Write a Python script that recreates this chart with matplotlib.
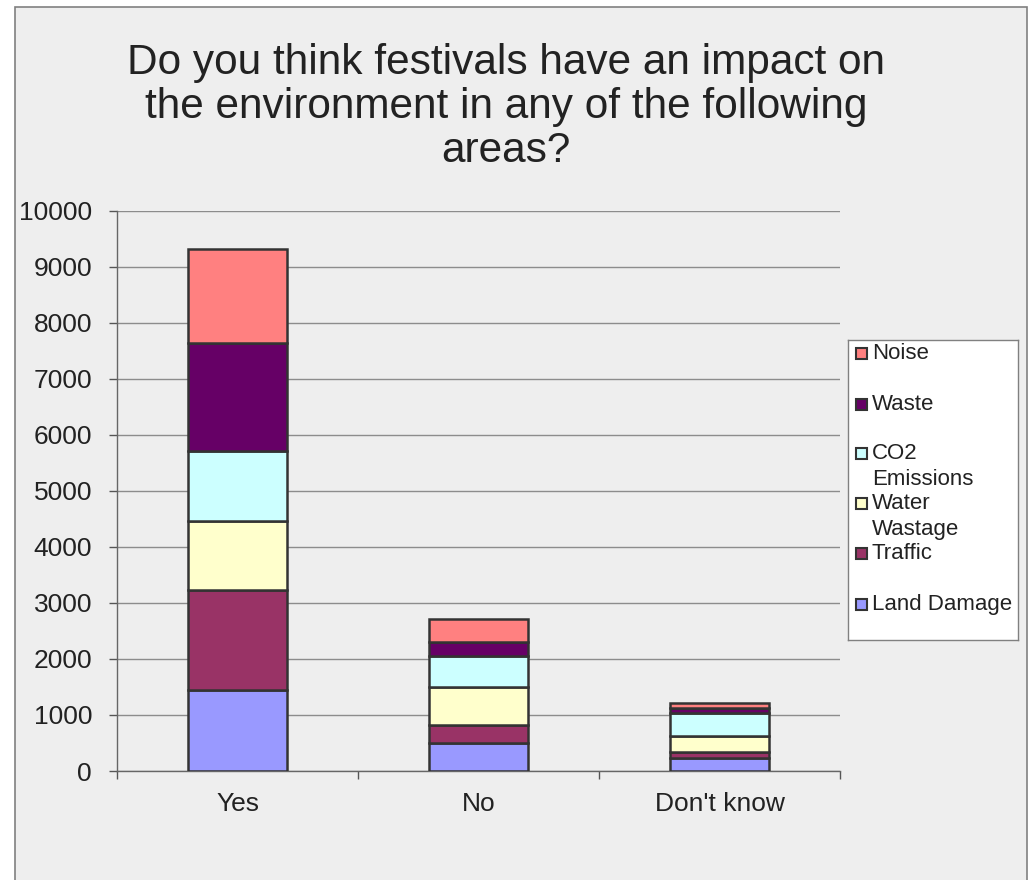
import numpy as np
import matplotlib.pyplot as plt
from matplotlib.patches import Rectangle

plt.rcParams['font.family'] = ['Liberation Sans', 'DejaVu Sans']

# данные
categories = ['Yes', 'No', "Don't know"]
series = ['Land Damage', 'Traffic', 'Water\nWastage', 'CO2\nEmissions', 'Waste', 'Noise']
land_damage = [1450, 500, 238]
traffic = [1780, 330, 100]
water = [1230, 670, 295]
co2 = [1250, 555, 405]
waste = [1930, 240, 80]
noise = [1690, 415, 100]
values = [land_damage, traffic, water, co2, waste, noise]
colors = ['#9999FF', '#993366', '#FFFFCC', '#CCFFFF', '#660066', '#FF8080']
yticks = list(range(0, 10001, 1000))

txt = '#222222'
fig = plt.figure(figsize=(10.3, 8.8), dpi=100, facecolor='white')
# серая рамка области диаграммы
fig.patches.append(Rectangle((15 / 1030, -0.01), 1012 / 1030, 1 - 7 / 880 + 0.01,
                             transform=fig.transFigure, facecolor='#EEEEEE',
                             edgecolor='#808080', linewidth=1.2, zorder=-10))

ax = fig.add_axes([117 / 1030, 1 - 771 / 880, 723 / 1030, 560 / 880])
ax.set_facecolor('none')

x = np.arange(len(categories))
bottom = np.zeros(len(categories))
for vals, col, name in zip(values, colors, series):
    ax.bar(x, vals, 0.41, bottom=bottom, color=col, edgecolor='#333333',
           linewidth=1.8, label=name, zorder=3)
    bottom += np.array(vals)

ax.set_xlim(-0.5, 2.5)
ax.set_ylim(0, 10000)
ax.set_yticks(yticks)
ax.set_yticklabels([str(v) for v in yticks])
ax.yaxis.grid(True, color='#8C8C8C', linewidth=1.0, zorder=0)
ax.set_xticks([-0.5, 0.5, 1.5, 2.5])
ax.set_xticklabels([])
ax.set_xticks(x, minor=True)
ax.set_xticklabels(categories, minor=True)
ax.tick_params(axis='x', which='minor', length=0, pad=15, labelsize=19, labelcolor=txt)
ax.tick_params(axis='x', which='major', length=6, width=1, color='#555555', direction='out')
ax.tick_params(axis='y', length=6, width=1, color='#555555', pad=12, labelsize=19, labelcolor=txt)
for s in ['top', 'right']:
    ax.spines[s].set_visible(False)
for s in ['left', 'bottom']:
    ax.spines[s].set_color('#666666')
    ax.spines[s].set_linewidth(1.0)

fig.text(506 / 1030, 1 - 43 / 880,
         'Do you think festivals have an impact on\nthe environment in any of the following\nareas?',
         ha='center', va='top', fontsize=30.5, color=txt, linespacing=1.13)

# легенда
lax = fig.add_axes([848 / 1030, 1 - 640 / 880, 170 / 1030, 300 / 880])
lax.set_xlim(848, 1018)
lax.set_ylim(640, 340)
lax.set_xticks([])
lax.set_yticks([])
lax.set_facecolor('white')
for s in lax.spines.values():
    s.set_color('#808080')
    s.set_linewidth(1.0)
ys = [604, 553, 503, 453, 404, 353]
for yy, col, name in zip(ys, colors, series):
    lax.add_patch(Rectangle((856, yy - 5.5), 11, 11, facecolor=col, edgecolor='#333333', linewidth=1.5))
    lax.text(872, yy - 10, name, va='top', ha='left', fontsize=16, color=txt, linespacing=1.3)

fig.savefig('out.png', dpi=100, facecolor=fig.get_facecolor())
